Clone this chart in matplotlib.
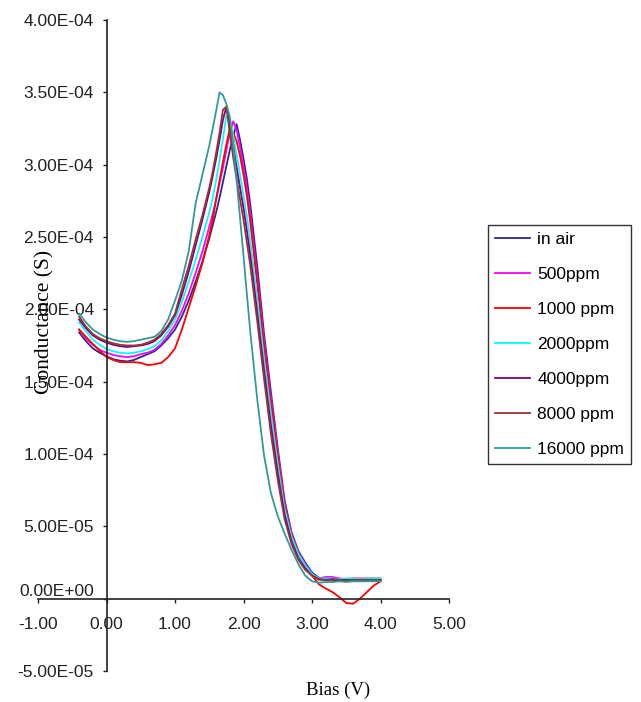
import numpy as np
import matplotlib
matplotlib.use("Agg")
import matplotlib.pyplot as plt
from matplotlib import ticker

# bias (V), shared by all series
bias = [-0.4, -0.3, -0.2, -0.1, 0.0, 0.1, 0.2, 0.3, 0.4, 0.5,
        0.6, 0.7, 0.8, 0.9, 1.0, 1.1, 1.2, 1.3, 1.4, 1.5,
        1.55, 1.6, 1.65, 1.7, 1.75, 1.8, 1.85, 1.9, 1.95, 2.0,
        2.05, 2.1, 2.2, 2.3, 2.4, 2.5, 2.6, 2.7, 2.8, 2.9,
        3.0, 3.1, 3.2, 3.3, 3.4, 3.5, 3.6, 3.7, 3.8, 3.9, 4.0]

# conductance in units of 1e-4 S
in_air = [1.84, 1.78, 1.73, 1.70, 1.675, 1.655, 1.645, 1.64, 1.65, 1.67,
          1.69, 1.71, 1.75, 1.80, 1.86, 1.95, 2.06, 2.19, 2.33, 2.49,
          2.58, 2.67, 2.77, 2.88, 2.99, 3.10, 3.20, 3.28, 3.17, 3.04,
          2.90, 2.72, 2.30, 1.83, 1.43, 1.04, 0.68, 0.46, 0.33, 0.25,
          0.18, 0.145, 0.13, 0.13, 0.125, 0.13, 0.13, 0.125, 0.13, 0.13, 0.13]
ppm500 = [1.86, 1.80, 1.755, 1.72, 1.70, 1.685, 1.675, 1.67, 1.675, 1.69,
          1.70, 1.72, 1.76, 1.82, 1.89, 1.99, 2.11, 2.25, 2.40, 2.57,
          2.66, 2.76, 2.87, 2.98, 3.10, 3.22, 3.30, 3.24, 3.12, 2.98,
          2.83, 2.65, 2.23, 1.78, 1.39, 1.01, 0.66, 0.45, 0.32, 0.24,
          0.17, 0.14, 0.15, 0.15, 0.14, 0.135, 0.14, 0.14, 0.14, 0.14, 0.14]
ppm1000 = [1.86, 1.81, 1.76, 1.715, 1.67, 1.65, 1.635, 1.635, 1.635, 1.63,
           1.615, 1.62, 1.63, 1.67, 1.73, 1.86, 2.01, 2.16, 2.32, 2.51,
           2.62, 2.76, 2.89, 3.02, 3.14, 3.25, 3.22, 3.16, 3.06, 2.93,
           2.78, 2.60, 2.18, 1.74, 1.35, 0.98, 0.64, 0.44, 0.31, 0.22,
           0.16, 0.10, 0.07, 0.045, 0.01, -0.03, -0.035, 0.0, 0.045, 0.09, 0.12]
ppm2000 = [1.91, 1.85, 1.79, 1.755, 1.725, 1.71, 1.70, 1.695, 1.70, 1.71,
           1.725, 1.745, 1.785, 1.85, 1.93, 2.05, 2.19, 2.34, 2.50, 2.67,
           2.77, 2.89, 3.03, 3.18, 3.34, 3.32, 3.20, 3.07, 2.93, 2.79,
           2.64, 2.47, 2.07, 1.66, 1.28, 0.93, 0.62, 0.43, 0.31, 0.23,
           0.17, 0.14, 0.14, 0.14, 0.135, 0.14, 0.14, 0.135, 0.14, 0.14, 0.14]
ppm4000 = [1.93, 1.87, 1.82, 1.79, 1.77, 1.755, 1.745, 1.74, 1.745, 1.75,
           1.76, 1.78, 1.82, 1.88, 1.96, 2.10, 2.26, 2.44, 2.62, 2.81,
           2.92, 3.04, 3.17, 3.31, 3.40, 3.28, 3.13, 2.98, 2.84, 2.70,
           2.54, 2.37, 1.98, 1.58, 1.20, 0.87, 0.58, 0.40, 0.28, 0.21,
           0.16, 0.135, 0.13, 0.135, 0.13, 0.13, 0.13, 0.13, 0.13, 0.13, 0.13]
ppm8000 = [1.95, 1.88, 1.83, 1.80, 1.78, 1.765, 1.755, 1.75, 1.75, 1.755,
           1.77, 1.79, 1.83, 1.89, 1.97, 2.14, 2.30, 2.48, 2.65, 2.84,
           2.95, 3.08, 3.22, 3.38, 3.40, 3.22, 3.05, 2.90, 2.76, 2.62,
           2.46, 2.30, 1.92, 1.52, 1.14, 0.82, 0.55, 0.38, 0.27, 0.20,
           0.16, 0.13, 0.13, 0.13, 0.13, 0.125, 0.13, 0.13, 0.13, 0.13, 0.13]
ppm16000 = [1.97, 1.91, 1.86, 1.83, 1.805, 1.79, 1.78, 1.775, 1.78, 1.79,
            1.80, 1.81, 1.85, 1.93, 2.06, 2.20, 2.40, 2.73, 2.93, 3.13,
            3.25, 3.37, 3.50, 3.48, 3.42, 3.33, 3.14, 2.89, 2.63, 2.37,
            2.10, 1.84, 1.38, 0.99, 0.73, 0.57, 0.45, 0.34, 0.24, 0.16,
            0.12, 0.11, 0.115, 0.115, 0.12, 0.115, 0.12, 0.12, 0.12, 0.12, 0.12]

series = [in_air, ppm500, ppm1000, ppm2000, ppm4000, ppm8000, ppm16000]
names = ['in air', '500ppm', '1000 ppm', '2000ppm', '4000ppm', '8000 ppm', '16000 ppm']
colors = ['#2a2a90', '#ff00ff', '#ff0000', '#00ffff', '#800080', '#993333', '#339999']

fig = plt.figure(figsize=(6.41, 7.02), dpi=100)
ax = fig.add_axes([38/641, 1-671/702, 411/641, 651/702])

for y, name, c in zip(series, names, colors):
    ax.plot(bias, np.array(y)*1e-4, color=c, lw=1.3, label=name)

ax.set_xlim(-1, 5)
ax.set_ylim(-5e-5, 4e-4)
ax.set_xticks(np.arange(-1, 5.01, 1))
ax.set_yticks(np.arange(-5e-5, 4.01e-4, 5e-5))
ax.xaxis.set_major_formatter(ticker.FuncFormatter(lambda v, p: f"{v:.2f}"))
ax.yaxis.set_major_formatter(ticker.FuncFormatter(lambda v, p: f"{v:.2E}"))

ax.spines['left'].set_position(('data', 0))
ax.spines['bottom'].set_position(('data', 0))
ax.spines['top'].set_visible(False)
ax.spines['right'].set_visible(False)
for s in ['left', 'bottom']:
    ax.spines[s].set_linewidth(1.2)
    ax.spines[s].set_color('#222222')

ax.tick_params(axis='both', direction='out', length=3, width=1,
               labelsize=12.5, colors='#222222')
ax.tick_params(axis='y', pad=6)
ax.tick_params(axis='x', pad=10)
for lab in ax.get_xticklabels() + ax.get_yticklabels():
    lab.set_fontfamily('Liberation Sans')
# zero label sits just above the axis line
ax.yaxis.get_major_ticks()[1].label1.set_verticalalignment('bottom')

fig.text(45/641, 1-322/702, 'Conductance (S)', rotation=90, ha='center', va='center',
         family='Liberation Serif', fontsize=15.5)
fig.text(338/641, 1-690/702, 'Bias (V)', ha='center', va='center',
         family='Liberation Serif', fontsize=13.5)

leg = fig.legend(loc='upper left', bbox_to_anchor=(488/641, 1-225/702),
                 frameon=True, fancybox=False, edgecolor='black',
                 prop={'family': 'Liberation Sans', 'size': 12.5},
                 handlelength=2.0, handletextpad=0.45, labelspacing=1.14,
                 borderpad=0.4, borderaxespad=0)
leg.get_frame().set_linewidth(1.0)

fig.savefig('out.png', dpi=100)
